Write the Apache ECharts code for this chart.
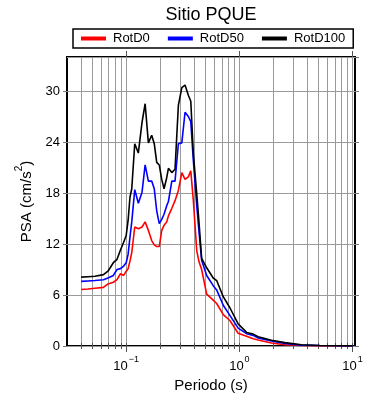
<!DOCTYPE html>
<html>
<head>
<meta charset="utf-8">
<script src="https://cdn.jsdelivr.net/npm/echarts@6/dist/echarts.min.js"></script>
<style>
  html, body { margin: 0; padding: 0; background: #fff; }
  #chart { width: 390px; height: 400px; }
</style>
</head>
<body>
<div id="chart"></div>
<script>
// periodos (s)
var periods = [0.04, 0.046, 0.053, 0.063, 0.069, 0.077, 0.083, 0.089, 0.095, 0.1,
  0.104, 0.108, 0.112, 0.119, 0.128, 0.138, 0.147, 0.157, 0.168, 0.177,
  0.186, 0.196, 0.206, 0.216, 0.228, 0.236, 0.253, 0.27, 0.289, 0.31,
  0.331, 0.354, 0.372, 0.392, 0.42, 0.44, 0.464, 0.514, 0.587, 0.63,
  0.72, 0.824, 0.975, 1.157, 1.324, 1.465, 1.92, 2.52, 3.53, 5.12, 10]

var rotD0 = [6.65, 6.7, 6.8, 6.9, 7.3, 7.5, 7.8, 8.5, 8.3, 8.8,
  9.1, 10.0, 11.0, 14.0, 13.8, 14.0, 14.6, 13.6, 12.4, 11.9,
  11.7, 11.7, 13.6, 14.2, 14.6, 15.3, 16.2, 17.1, 18.3, 20.4,
  19.6, 19.9, 20.6, 17.1, 11.2, 9.9, 9.0, 6.1, 5.4, 5.0,
  3.7, 3.0, 1.5, 1.14, 0.85, 0.7, 0.35, 0.15, 0.05, 0.02, 0.01]

var rotD50 = [7.6, 7.65, 7.7, 7.8, 8.0, 8.3, 9.0, 9.1, 9.4, 9.8,
  10.8, 12.8, 14.6, 18.4, 16.8, 18.1, 21.3, 19.4, 19.4, 18.5,
  15.9, 14.4, 14.9, 15.5, 16.5, 17.0, 19.4, 19.4, 23.8, 23.9,
  27.5, 27.0, 26.4, 21.8, 16.5, 13.4, 10.1, 8.3, 7.1, 6.6,
  4.8, 3.6, 2.1, 1.45, 1.25, 0.95, 0.6, 0.3, 0.1, 0.05, 0.015]

var rotD100 = [8.1, 8.15, 8.2, 8.4, 8.8, 9.8, 10.2, 11.3, 12.2, 13.0,
  14.8, 17.5, 18.5, 23.8, 22.7, 26.3, 28.5, 23.9, 24.8, 23.8,
  21.6, 21.3, 19.6, 18.5, 19.8, 20.9, 20.4, 20.8, 28.3, 30.4,
  30.7, 29.5, 28.8, 22.6, 17.9, 14.5, 10.3, 9.2, 8.0, 7.7,
  5.8, 4.5, 2.6, 1.6, 1.4, 1.1, 0.67, 0.4, 0.15, 0.06, 0.02]

var xMajor = [0.1, 1, 10]
var xMinor = [0.04, 0.05, 0.06, 0.07, 0.08, 0.09, 0.1,
  0.2, 0.3, 0.4, 0.5, 0.6, 0.7, 0.8, 0.9, 1,
  2, 3, 4, 5, 6, 7, 8, 9, 10]

var font = 'Liberation Sans'
var gridColor = '#9a9a9a'

function pairs (ys) {
  return periods.map(function (p, i) { return [p, ys[i]] })
}

function expLabel (v) {
  var e = Math.round(Math.log10(v))
  return '{b|10}{s|' + (e < 0 ? '\u2212' : '') + Math.abs(e) + '}'
}

var xBase = {
  type: 'log',
  min: 0.03,
  max: 10.5,
  axisLine: { show: false },
  splitLine: { show: false },
  axisLabel: { show: false }
}

var chart = echarts.init(document.getElementById('chart'))
chart.setOption({
  animation: false,
  textStyle: { fontFamily: font },
  title: {
    text: 'Sitio PQUE',
    left: 206,
    top: 1,
    textAlign: 'center',
    textStyle: { fontFamily: font, fontSize: 18, fontWeight: 'normal', color: '#000' }
  },
  legend: {
    left: 73,
    top: 29,
    padding: [3, 8],
    borderColor: '#000',
    borderWidth: 1.5,
    itemGap: 18,
    itemWidth: 25,
    itemHeight: 4,
    icon: 'rect',
    textStyle: { fontFamily: font, fontSize: 13, color: '#000', padding: [0, 0, 0, 2] },
    data: ['RotD0', 'RotD50', 'RotD100']
  },
  grid: {
    left: 67,
    right: 35,
    top: 57,
    bottom: 54,
    show: true,
    borderColor: '#000',
    borderWidth: 2,
    backgroundColor: 'transparent'
  },
  xAxis: [
    Object.assign({}, xBase, {
      position: 'bottom',
      name: 'Periodo (s)',
      nameLocation: 'middle',
      nameGap: 28,
      nameTextStyle: { fontFamily: font, fontSize: 15, color: '#000' },
      axisTick: { show: true, length: 3, lineStyle: { color: '#555' }, customValues: xMinor },
      splitLine: { show: true, lineStyle: { color: gridColor, width: 1 } },
      axisLabel: {
        show: true,
        customValues: xMajor,
        margin: 9,
        formatter: expLabel,
        rich: {
          b: { fontFamily: font, fontSize: 13, color: '#000', lineHeight: 18, verticalAlign: 'bottom' },
          s: { fontFamily: font, fontSize: 9, color: '#000', lineHeight: 18, verticalAlign: 'top', padding: [0, 0, 0, 1] }
        }
      }
    }),
    Object.assign({}, xBase, {
      position: 'top',
      axisTick: { show: true, length: 3, lineStyle: { color: '#555' }, customValues: xMinor }
    }),
    Object.assign({}, xBase, {
      position: 'bottom',
      axisTick: { show: true, length: 6, lineStyle: { color: '#555' }, customValues: xMajor }
    }),
    Object.assign({}, xBase, {
      position: 'top',
      axisTick: { show: true, length: 6, lineStyle: { color: '#555' }, customValues: xMajor }
    })
  ],
  yAxis: [
    {
      type: 'value',
      min: 0,
      max: 34,
      interval: 6,
      position: 'left',
      name: '{a|PSA (cm/s}{s|2}{a|)}',
      nameLocation: 'middle',
      nameGap: 31,
      nameTextStyle: {
        rich: {
          a: { fontFamily: font, fontSize: 15, color: '#000', lineHeight: 20, verticalAlign: 'bottom' },
          s: { fontFamily: font, fontSize: 10, color: '#000', lineHeight: 20, verticalAlign: 'top' }
        }
      },
      axisLine: { show: false },
      axisTick: { show: true, length: 4, lineStyle: { color: '#777' } },
      splitLine: { show: true, lineStyle: { color: gridColor, width: 1 } },
      axisLabel: { showMaxLabel: false, margin: 7, fontFamily: font, fontSize: 13, color: '#000' }
    },
    {
      type: 'value',
      min: 0,
      max: 34,
      interval: 6,
      position: 'right',
      axisLine: { show: false },
      axisTick: { show: true, length: 4, lineStyle: { color: '#777' } },
      splitLine: { show: false },
      axisLabel: { show: false }
    }
  ],
  series: [
    {
      name: 'RotD0',
      type: 'line',
      data: pairs(rotD0),
      symbol: 'none',
      color: '#ff0000',
      lineStyle: { width: 1.6, color: '#ff0000' },
      z: 3
    },
    {
      name: 'RotD50',
      type: 'line',
      data: pairs(rotD50),
      symbol: 'none',
      color: '#0000ff',
      lineStyle: { width: 1.6, color: '#0000ff' },
      z: 4
    },
    {
      name: 'RotD100',
      type: 'line',
      data: pairs(rotD100),
      symbol: 'none',
      color: '#000000',
      lineStyle: { width: 1.6, color: '#000000' },
      z: 5
    }
  ]
})
</script>
</body>
</html>
